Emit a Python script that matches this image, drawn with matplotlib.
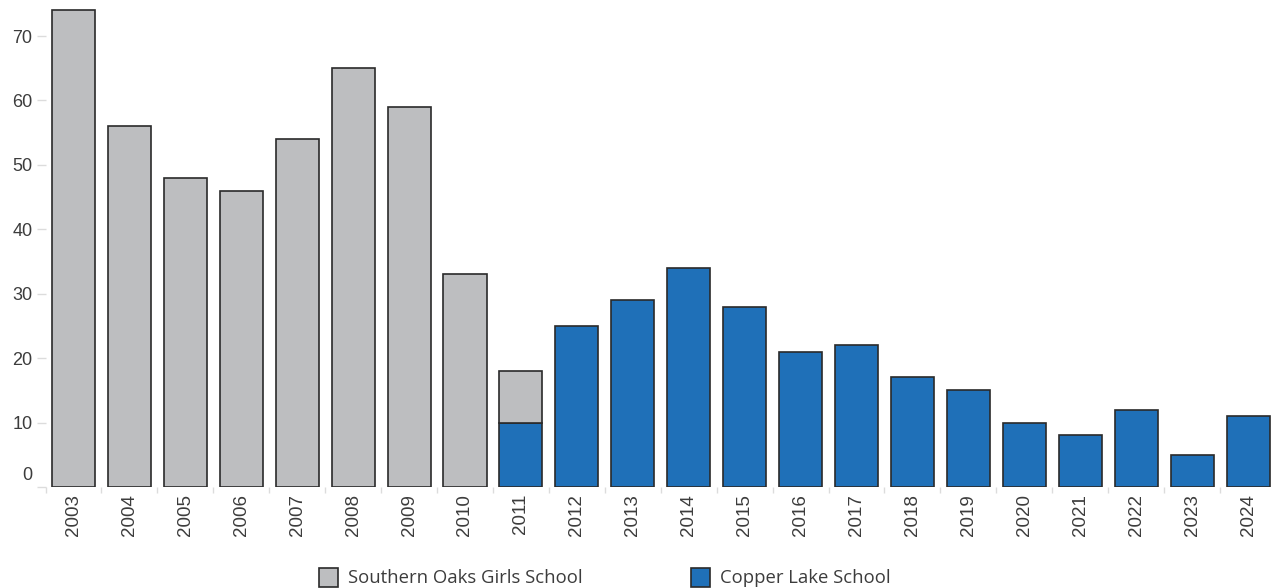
import matplotlib
matplotlib.use("Agg")
import matplotlib.pyplot as plt
import matplotlib.transforms as mtransforms
from matplotlib.patches import Rectangle
import numpy as np

# Enrolment by year for the two schools
years = [str(y) for y in range(2003, 2025)]
southern_oaks = [74, 56, 48, 46, 54, 65, 59, 33, 8, 0, 0, 0, 0, 0, 0, 0, 0, 0, 0, 0, 0, 0]
copper_lake = [0, 0, 0, 0, 0, 0, 0, 0, 10, 25, 29, 34, 28, 21, 22, 17, 15, 10, 8, 12, 5, 11]
series_names = ["Southern Oaks Girls School", "Copper Lake School"]
y_ticks = [0, 10, 20, 30, 40, 50, 60, 70]

GREY = "#bdbec0"
BLUE = "#1f70b8"
EDGE = "#2a2a2a"
TEXT = "#3c3c3c"
TICK = "#dcdcdc"

plt.rcParams["font.family"] = ["Liberation Sans", "DejaVu Sans"]

W, H = 1271, 588
fig = plt.figure(figsize=(W / 100, H / 100), dpi=100)

left_px, right_px = 45.5, 1276.0
base_px, top_px = 487.0, 3.8
ax = fig.add_axes([left_px / W, (H - base_px) / H,
                   (right_px - left_px) / W, (base_px - top_px) / H])

x = np.arange(len(years))
so = np.array(southern_oaks, dtype=float)
cl = np.array(copper_lake, dtype=float)

bar_w = 0.77
mask_cl = cl > 0
mask_so = so > 0
ax.bar(x[mask_cl], cl[mask_cl], width=bar_w, color=BLUE, edgecolor=EDGE, linewidth=1.2, zorder=2)
ax.bar(x[mask_so], so[mask_so], bottom=cl[mask_so], width=bar_w, color=GREY,
       edgecolor=EDGE, linewidth=1.2, zorder=2)

ax.set_xlim(-0.5, len(years) - 0.5)
ax.set_ylim(0.12, 75)

for s in ax.spines.values():
    s.set_visible(False)

# y axis
ax.set_yticks(y_ticks)
ax.set_yticklabels([str(v) for v in y_ticks])
ax.tick_params(axis="y", length=6.5, width=1, color=TICK, pad=3,
               labelsize=13, labelcolor=TEXT)
# lift the zero label clear of the baseline
zero_lbl = ax.get_yticklabels()[0]
zero_lbl.set_transform(zero_lbl.get_transform() +
                       mtransforms.ScaledTranslation(0, 13 / 100, fig.dpi_scale_trans))

# x axis: labels centred on bars, light ticks between bars
ax.set_xticks(x)
ax.set_xticklabels(years, rotation=90)
ax.tick_params(axis="x", which="major", length=0, pad=5, labelsize=13.5, labelcolor=TEXT)
ax.set_xticks(np.arange(-0.5, len(years), 1.0), minor=True)
ax.tick_params(axis="x", which="minor", length=4, width=1, color=TICK)

# legend along the bottom
legend_items = [(series_names[0], GREY, 319), (series_names[1], BLUE, 691)]
for name, col, px in legend_items:
    fig.patches.append(Rectangle((px / W, (H - 587) / H), 19 / W, 19 / H,
                                 transform=fig.transFigure, facecolor=col,
                                 edgecolor=EDGE, linewidth=1.2))
    fig.text((px + 29) / W, (H - 578) / H, name, ha="left", va="center",
             fontsize=13.3, color=TEXT, family=["Open Sans", "DejaVu Sans"])

fig.savefig("out.png", dpi=100)
